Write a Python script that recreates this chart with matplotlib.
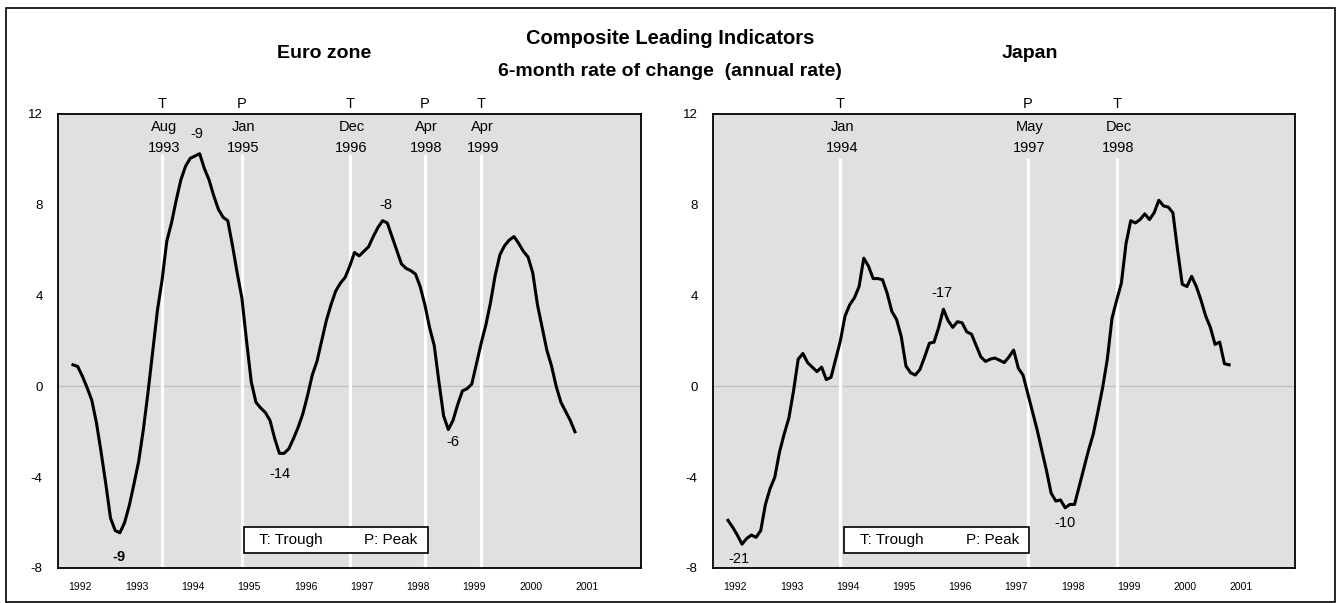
import matplotlib
matplotlib.use("Agg")
import matplotlib.pyplot as plt
from matplotlib.patches import Rectangle

plt.rcParams['font.family'] = ['Liberation Sans', 'DejaVu Sans']
plt.rcParams['axes.unicode_minus'] = False

# ---------------- data ----------------
start_year = 1992  # monthly series starting January 1992
euro_values = [
    0.95, 0.88, 0.45, -0.05, -0.6, -1.6, -2.9, -4.3, -5.8, -6.35, -6.45, -6.0,
    -5.25, -4.3, -3.3, -1.9, -0.25, 1.55, 3.35, 4.7, 6.4, 7.2, 8.2, 9.1,
    9.7, 10.05, 10.15, 10.25, 9.6, 9.1, 8.4, 7.8, 7.45, 7.3, 6.2, 5.0,
    3.9, 2.0, 0.2, -0.7, -0.95, -1.15, -1.5, -2.3, -2.95, -2.95, -2.75, -2.3,
    -1.8, -1.2, -0.4, 0.5, 1.1, 2.0, 2.9, 3.6, 4.2, 4.55, 4.8, 5.3,
    5.9, 5.75, 5.95, 6.15, 6.6, 7.0, 7.3, 7.2, 6.6, 6.0, 5.4, 5.2,
    5.1, 4.95, 4.4, 3.6, 2.6, 1.8, 0.2, -1.3, -1.9, -1.5, -0.8, -0.2,
    -0.1, 0.1, 1.0, 1.9, 2.7, 3.7, 4.9, 5.8, 6.2, 6.45, 6.6, 6.3,
    5.95, 5.7, 5.0, 3.6, 2.6, 1.6, 0.9, 0.0, -0.7, -1.1, -1.5, -2.0,
]
japan_values = [
    -5.9, -6.2, -6.55, -6.95, -6.7, -6.55, -6.65, -6.35, -5.2, -4.5, -4.0, -2.9,
    -2.1, -1.4, -0.2, 1.2, 1.45, 1.05, 0.85, 0.65, 0.85, 0.3, 0.4, 1.2,
    2.0, 3.1, 3.6, 3.9, 4.4, 5.65, 5.3, 4.75, 4.75, 4.7, 4.1, 3.3,
    2.95, 2.2, 0.9, 0.6, 0.5, 0.75, 1.3, 1.9, 1.95, 2.6, 3.4, 2.9,
    2.6, 2.85, 2.8, 2.4, 2.3, 1.8, 1.3, 1.1, 1.2, 1.25, 1.15, 1.05,
    1.3, 1.6, 0.8, 0.5, -0.3, -1.1, -1.9, -2.8, -3.7, -4.7, -5.05, -5.0,
    -5.35, -5.2, -5.2, -4.4, -3.6, -2.8, -2.1, -1.1, -0.05, 1.2, 3.0, 3.8,
    4.55, 6.3, 7.3, 7.2, 7.35, 7.6, 7.35, 7.65, 8.2, 7.95, 7.9, 7.65,
    6.0, 4.5, 4.4, 4.85, 4.4, 3.8, 3.1, 2.6, 1.85, 1.95, 1.0, 0.95,
]
year_labels = [1992, 1993, 1994, 1995, 1996, 1997, 1998, 1999, 2000, 2001]
y_ticks = [-8, -4, 0, 4, 8, 12]

# turning points: (type, month, year)
euro_turns = [("T", "Aug", 1993), ("P", "Jan", 1995), ("T", "Dec", 1996),
              ("P", "Apr", 1998), ("T", "Apr", 1999)]
japan_turns = [("T", "Jan", 1994), ("P", "May", 1997), ("T", "Dec", 1998)]

# lead-time annotations: (text, x in years, y value, bold)
euro_notes = [("-9", 1994.20, 11.1, False), ("-8", 1997.56, 8.0, False),
              ("-14", 1995.68, -3.85, False), ("-6", 1998.75, -2.45, False),
              ("-9", 1992.82, -7.5, True)]
japan_notes = [("-17", 1995.80, 4.1, False), ("-21", 1992.20, -7.6, False),
               ("-10", 1998.00, -6.0, False)]

MONTHS = ["Jan", "Feb", "Mar", "Apr", "May", "Jun", "Jul", "Aug", "Sep",
          "Oct", "Nov", "Dec"]

# ---------------- figure ----------------
W, H = 1341, 603
fig = plt.figure(figsize=(W / 100, H / 100), dpi=100)

# outer frame
fig.patches.append(Rectangle((6 / W, 1 - 602 / H), 1329 / W, 594 / H,
                             transform=fig.transFigure, fill=False,
                             edgecolor="black", linewidth=1.2))

XMIN = 1991.734
XMAX = XMIN + 583 / 56.3
BG = "#e0e0e0"


def month_pos(mon, yr):
    return yr + MONTHS.index(mon) / 12.0


def draw_panel(rect, values, turns, notes, line_top, legend_x, legend_text_x):
    ax = fig.add_axes(rect)
    ax.set_facecolor(BG)
    ax.set_xlim(XMIN, XMAX)
    ax.set_ylim(-8, 12)
    for s in ax.spines.values():
        s.set_linewidth(1.3)
        s.set_color("black")
    ax.axhline(0, color="#bdbdbd", linewidth=0.9, zorder=1)
    xs = [start_year + i / 12.0 for i in range(len(values))]
    for typ, mon, yr in turns:
        x = month_pos(mon, yr)
        ax.vlines(x, -8, line_top, colors="white", linewidth=2.3, zorder=2)
        ax.text(x, 12.44, typ, ha="center", va="center", fontsize=10.5,
                clip_on=False)
        ax.text(x + 0.03, 11.43, mon, ha="center", va="center", fontsize=10.5)
        ax.text(x + 0.03, 10.52, str(yr), ha="center", va="center",
                fontsize=10.5)
    ax.plot(xs, values, color="black", linewidth=2.2, zorder=3,
            solid_joinstyle="round")
    for txt, x, y, bold in notes:
        ax.text(x, y, txt, ha="center", va="center", fontsize=10.5,
                fontweight="bold" if bold else "normal")
    ax.set_xticks([y + 0.13 for y in year_labels])
    ax.set_xticklabels([str(y) for y in year_labels], fontsize=7.5)
    ax.set_yticks(y_ticks)
    ax.set_yticklabels([str(v) for v in y_ticks], fontsize=9.5)
    ax.tick_params(axis="both", length=0)
    ax.tick_params(axis="x", pad=10)
    ax.tick_params(axis="y", pad=11)
    # legend box
    ax.add_patch(Rectangle((legend_x[0], 0.033), legend_x[1] - legend_x[0],
                           0.057, transform=ax.transAxes, facecolor="white",
                           edgecolor="black", linewidth=1.2, zorder=5))
    ax.text(legend_text_x[0], 0.0615, "T: Trough", transform=ax.transAxes,
            ha="center", va="center", fontsize=11, zorder=6)
    ax.text(legend_text_x[1], 0.0615, "P: Peak", transform=ax.transAxes,
            ha="center", va="center", fontsize=11, zorder=6)
    return ax


ax_bottom = (H - 568) / H
ax_h = 454 / H
draw_panel([58 / W, ax_bottom, 583 / W, ax_h], euro_values, euro_turns,
           euro_notes, 10.25, (0.319, 0.635), (0.40, 0.571))
draw_panel([713 / W, ax_bottom, 582 / W, ax_h], japan_values, japan_turns,
           japan_notes, 10.05, (0.225, 0.543), (0.308, 0.481))

fig.text(324 / W, 1 - 53 / H, "Euro zone", ha="center", va="center",
         fontsize=14, fontweight="bold")
fig.text(1030 / W, 1 - 53 / H, "Japan", ha="center", va="center",
         fontsize=14, fontweight="bold")
fig.text(670 / W, 1 - 38 / H, "Composite Leading Indicators", ha="center",
         va="center", fontsize=14.5, fontweight="bold")
fig.text(670 / W, 1 - 72 / H, "6-month rate of change  (annual rate)",
         ha="center", va="center", fontsize=14, fontweight="bold")

fig.savefig("out.png", dpi=100)
